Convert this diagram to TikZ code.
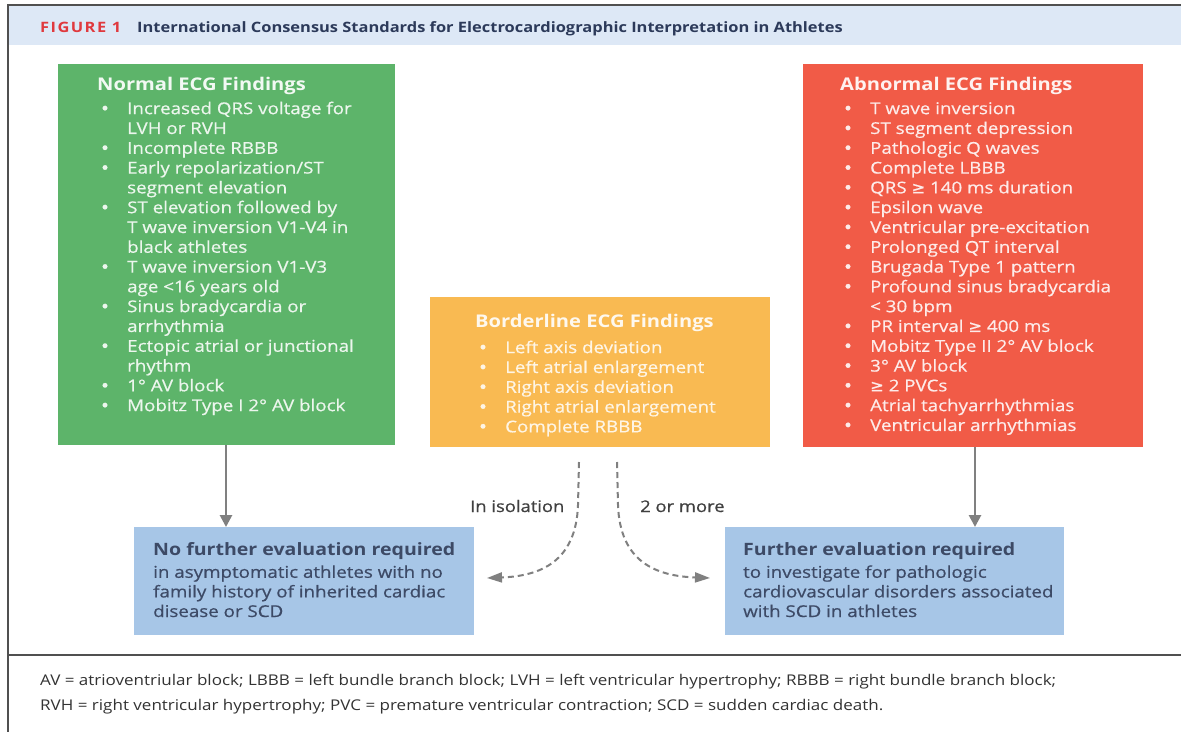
\documentclass[tikz,border=0pt]{standalone}
\usepackage{fontspec}
\setmainfont{Open Sans}[FakeStretch=1.15]
\newfontfamily\medf{Open Sans}[FakeStretch=1.15, FakeBold=0.6]
\newfontfamily\symf{DejaVu Sans}[FakeBold=0.6]
\usetikzlibrary{arrows.meta}
\definecolor{hdr}{HTML}{DDE8F6}
\definecolor{figred}{HTML}{E0393E}
\definecolor{navy}{HTML}{2C3A5A}
\definecolor{grn}{HTML}{5DB46A}
\definecolor{org}{HTML}{F9BA52}
\definecolor{rd}{HTML}{F15B47}
\definecolor{blu}{HTML}{A7C6E7}
\definecolor{blutxt}{HTML}{3D4A66}
\definecolor{arr}{HTML}{808080}
\definecolor{framec}{HTML}{505050}
\definecolor{foot}{HTML}{333333}
\newcommand\bitem{\makebox[27pt][l]{{\symf\char"2022}}}
\newcommand\citem{\hspace*{27pt}}
\newcommand\gesym{{\symf\char"2265}}
\tikzset{
  panel/.style={anchor=north west, inner sep=0pt, outer sep=0pt, draw=none},
  ttl/.style={anchor=base west, inner sep=0pt, font=\bfseries\fontsize{17.5}{20}\selectfont},
  lst/.style={anchor=north west, inner sep=0pt, align=left, font=\medf\fontsize{16.3}{19.8}\selectfont},
  bttl/.style={anchor=base west, inner sep=0pt, text=blutxt, font=\bfseries\fontsize{17}{20}\selectfont},
  blst/.style={anchor=north west, inner sep=0pt, align=left, text=blutxt, font=\medf\fontsize{16.3}{19.6}\selectfont},
  lbl/.style={anchor=base west, inner sep=0pt, text=black!75, font=\medf\fontsize{16}{19.8}\selectfont},
  solidarrow/.style={draw=arr, line width=2.7pt, -{Triangle[width=12pt,length=12pt]}},
  dasharrow/.style={draw=arr, line width=2pt, dash pattern=on 6pt off 4pt, -{Triangle[width=10pt,length=15pt]}},
  rule/.style={draw=framec, line width=2pt}
}
\begin{document}
\begin{tikzpicture}[x=1pt,y=-1pt]
\useasboundingbox (0,0) rectangle (1181,732);
\fill[white] (0,0) rectangle (1181,732);
% header band and frame
\fill[hdr] (9,6) rectangle (1181,45);
\draw[rule] (8,5) -- (1181,5);
\draw[rule] (8,4) -- (8,732);
\draw[rule] (8,655) -- (1181,655);
\node[anchor=base west, inner sep=0pt, text=figred, font=\bfseries\fontsize{14.3}{16}\selectfont\addfontfeatures{LetterSpace=10}] (fig) at (40,32) {FIGURE 1};
\node[anchor=base west, inner sep=0pt, text=navy, font=\bfseries\fontsize{14.3}{16}\selectfont] (title) at (137,32) {International Consensus Standards for Electrocardiographic Interpretation in Athletes};

% boxes
\node[panel, fill=grn, minimum width=337pt, minimum height=381pt] (normal) at (58,64) {};
\node[panel, fill=org, minimum width=340pt, minimum height=150pt] (border) at (430,297) {};
\node[panel, fill=rd, minimum width=340pt, minimum height=383pt] (abnormal) at (803,64) {};
\node[panel, fill=blu, minimum width=340pt, minimum height=108pt] (nofurther) at (134,527) {};
\node[panel, fill=blu, minimum width=339pt, minimum height=108pt] (further) at (725,527) {};

% normal findings
\node[ttl, text=white!92!grn] (normalT) at (97,90) {Normal ECG Findings};
\node[lst, text=white!88!grn] (normalL) at (100,100.1) {\strut\bitem Increased QRS voltage for\\
\citem LVH or RVH\\
\bitem Incomplete RBBB\\
\bitem Early repolarization/ST\\
\citem segment elevation\\
\bitem ST elevation followed by\\
\citem T wave inversion V1-V4 in\\
\citem black athletes\\
\bitem T wave inversion V1-V3\\
\citem age <16 years old\\
\bitem Sinus bradycardia or\\
\citem arrhythmia\\
\bitem Ectopic atrial or junctional\\
\citem rhythm\\
\bitem 1\textdegree{} AV block\\
\bitem Mobitz Type I 2\textdegree{} AV block};

% borderline findings
\node[ttl, text=white!90!org] (borderT) at (475,327) {Borderline ECG Findings};
\node[lst, text=white!85!org] (borderL) at (478,339.1) {\strut\bitem Left axis deviation\\
\bitem Left atrial enlargement\\
\bitem Right axis deviation\\
\bitem Right atrial enlargement\\
\bitem Complete RBBB};

% abnormal findings
\node[ttl, text=white!92!rd] (abnormalT) at (840,90) {Abnormal ECG Findings};
\node[lst, text=white!88!rd] (abnormalL) at (843,100.1) {\strut\bitem T wave inversion\\
\bitem ST segment depression\\
\bitem Pathologic Q waves\\
\bitem Complete LBBB\\
\bitem QRS \gesym{} 140 ms duration\\
\bitem Epsilon wave\\
\bitem Ventricular pre-excitation\\
\bitem Prolonged QT interval\\
\bitem Brugada Type 1 pattern\\
\bitem Profound sinus bradycardia\\
\citem < 30 bpm\\
\bitem PR interval \gesym{} 400 ms\\
\bitem Mobitz Type II 2\textdegree{} AV block\\
\bitem 3\textdegree{} AV block\\
\bitem \gesym{} 2 PVCs\\
\bitem Atrial tachyarrhythmias\\
\bitem Ventricular arrhythmias};

% outcome boxes
\node[bttl] (nofurtherT) at (153,555) {No further evaluation required};
\node[blst] (nofurtherL) at (153,563.9) {\strut in asymptomatic athletes with no\\
family history of inherited cardiac\\
disease or SCD};
\node[bttl] (furtherT) at (743,555) {Further evaluation required};
\node[blst] (furtherL) at (743,563.9) {\strut to investigate for pathologic\\
cardiovascular disorders associated\\
with SCD in athletes};

% labels
\node[lbl] (iso) at (470,512) {In isolation};
\node[lbl] (more) at (640,512) {2 or more};

% connectors
\draw[solidarrow] (normal.south -| 226,0) -- (nofurther.north -| 226,0);
\draw[solidarrow] (abnormal.south -| 975,0) -- (further.north -| 975,0);
\coordinate (dLs) at (579,462);
\coordinate (dLe) at (487,578);
\coordinate (dRs) at (617,462);
\coordinate (dRe) at (710,578);
\draw[dasharrow] (dLs) -- (578,505) .. controls (576,562) and (540,576) .. (dLe);
\draw[dasharrow] (dRs) -- (618,505) .. controls (620,562) and (656,576) .. (dRe);

% footer
\node[anchor=north west, inner sep=0pt, align=left, text=foot, font=\fontsize{14.8}{25}\selectfont] (footer) at (40,667.5) {\strut AV = atrioventriular block; LBBB = left bundle branch block; LVH = left ventricular hypertrophy; RBBB = right bundle branch block;\\
RVH = right ventricular hypertrophy; PVC = premature ventricular contraction; SCD = sudden cardiac death.};
\end{tikzpicture}
\end{document}
